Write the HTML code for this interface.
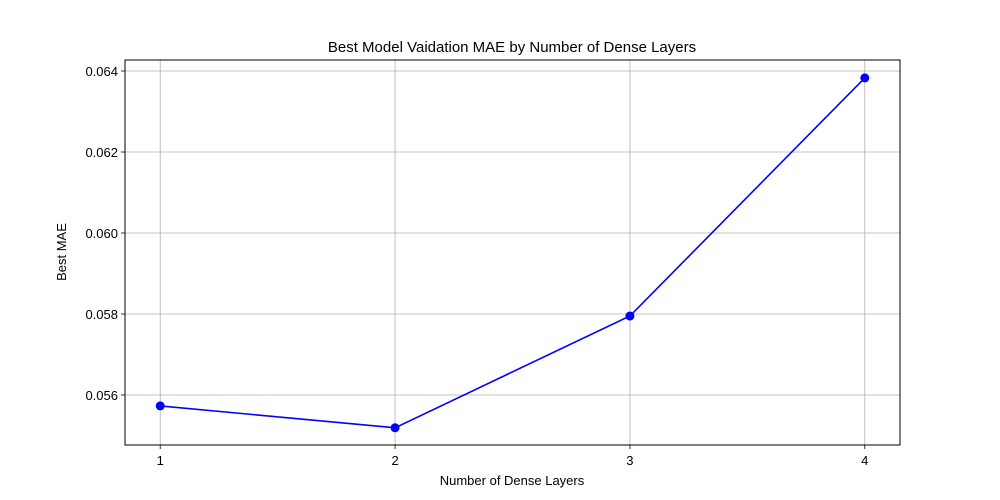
<!DOCTYPE html>
<html><head><meta charset="utf-8">
<style>
html,body{margin:0;padding:0;background:#fff;}
svg{display:block;font-family:"Liberation Sans","DejaVu Sans",sans-serif;}
</style></head>
<body>
<svg id="chart" width="1000" height="500" viewBox="0 0 1000 500">
<rect width="1000" height="500" fill="#fff"/>
<text x="512" y="52" text-anchor="middle" font-size="15">Best Model Vaidation MAE by Number of Dense Layers</text>
<g id="grid"></g>
<g id="axes"></g>
<g id="series"></g>
<rect x="125" y="60" width="775" height="385" fill="none" stroke="#000" stroke-width="1"/>
<text x="512" y="485" text-anchor="middle" font-size="13">Number of Dense Layers</text>
<text x="66" y="252" text-anchor="middle" font-size="13" transform="rotate(-90 66 252)">Best MAE</text>
</svg>
<script>
const categories = [1, 2, 3, 4];
const maeValues = [0.05573, 0.05519, 0.05795, 0.06383];
const yTicks = [0.056, 0.058, 0.060, 0.062, 0.064];
const yTickLabels = ["0.056", "0.058", "0.060", "0.062", "0.064"];

const L = 125, R = 900, T = 60, B = 445;
const xMin = 0.85, xMax = 4.15;
const yMin = 0.054765, yMax = 0.064272;
const xs = v => L + (v - xMin) / (xMax - xMin) * (R - L);
const ys = v => B - (v - yMin) / (yMax - yMin) * (B - T);
const NS = "http://www.w3.org/2000/svg";
const grid = document.getElementById('grid');
const axes = document.getElementById('axes');
const series = document.getElementById('series');
function mk(tag, attrs, parent) {
  const e = document.createElementNS(NS, tag);
  for (const k in attrs) e.setAttribute(k, attrs[k]);
  parent.appendChild(e);
  return e;
}
categories.forEach(c => {
  const x = xs(c);
  const g = mk('line', {x1: x, x2: x, y1: T, y2: B, stroke: '#b0b0b0', 'stroke-width': 0.8}, grid);
  
  
  const t = mk('line', {x1: x, x2: x, y1: B, y2: B + 4, stroke: '#000', 'stroke-width': 0.8}, axes);
  
  
  const l = mk('text', {x: x, y: B + 20, 'text-anchor': 'middle', 'font-size': 13}, axes);
  l.textContent = String(c);
  
  
});
yTicks.forEach((v, i) => {
  const y = ys(v);
  const g = mk('line', {x1: L, x2: R, y1: y, y2: y, stroke: '#b0b0b0', 'stroke-width': 0.8}, grid);
  
  
  const t = mk('line', {x1: L - 4, x2: L, y1: y, y2: y, stroke: '#000', 'stroke-width': 0.8}, axes);
  
  
  const l = mk('text', {x: L - 7, y: y + 5, 'text-anchor': 'end', 'font-size': 13}, axes);
  l.textContent = yTickLabels[i];
  
  
});
const pts = categories.map((c, i) => xs(c) + ',' + ys(maeValues[i])).join(' ');
const line = mk('polyline', {points: pts, fill: 'none', stroke: '#0000ff', 'stroke-width': 1.6}, series);


categories.forEach((c, i) => {
  const p = mk('circle', {cx: xs(c), cy: ys(maeValues[i]), r: 4.5, fill: '#0000ff'}, series);
  
  
});
</script>
</body></html>
